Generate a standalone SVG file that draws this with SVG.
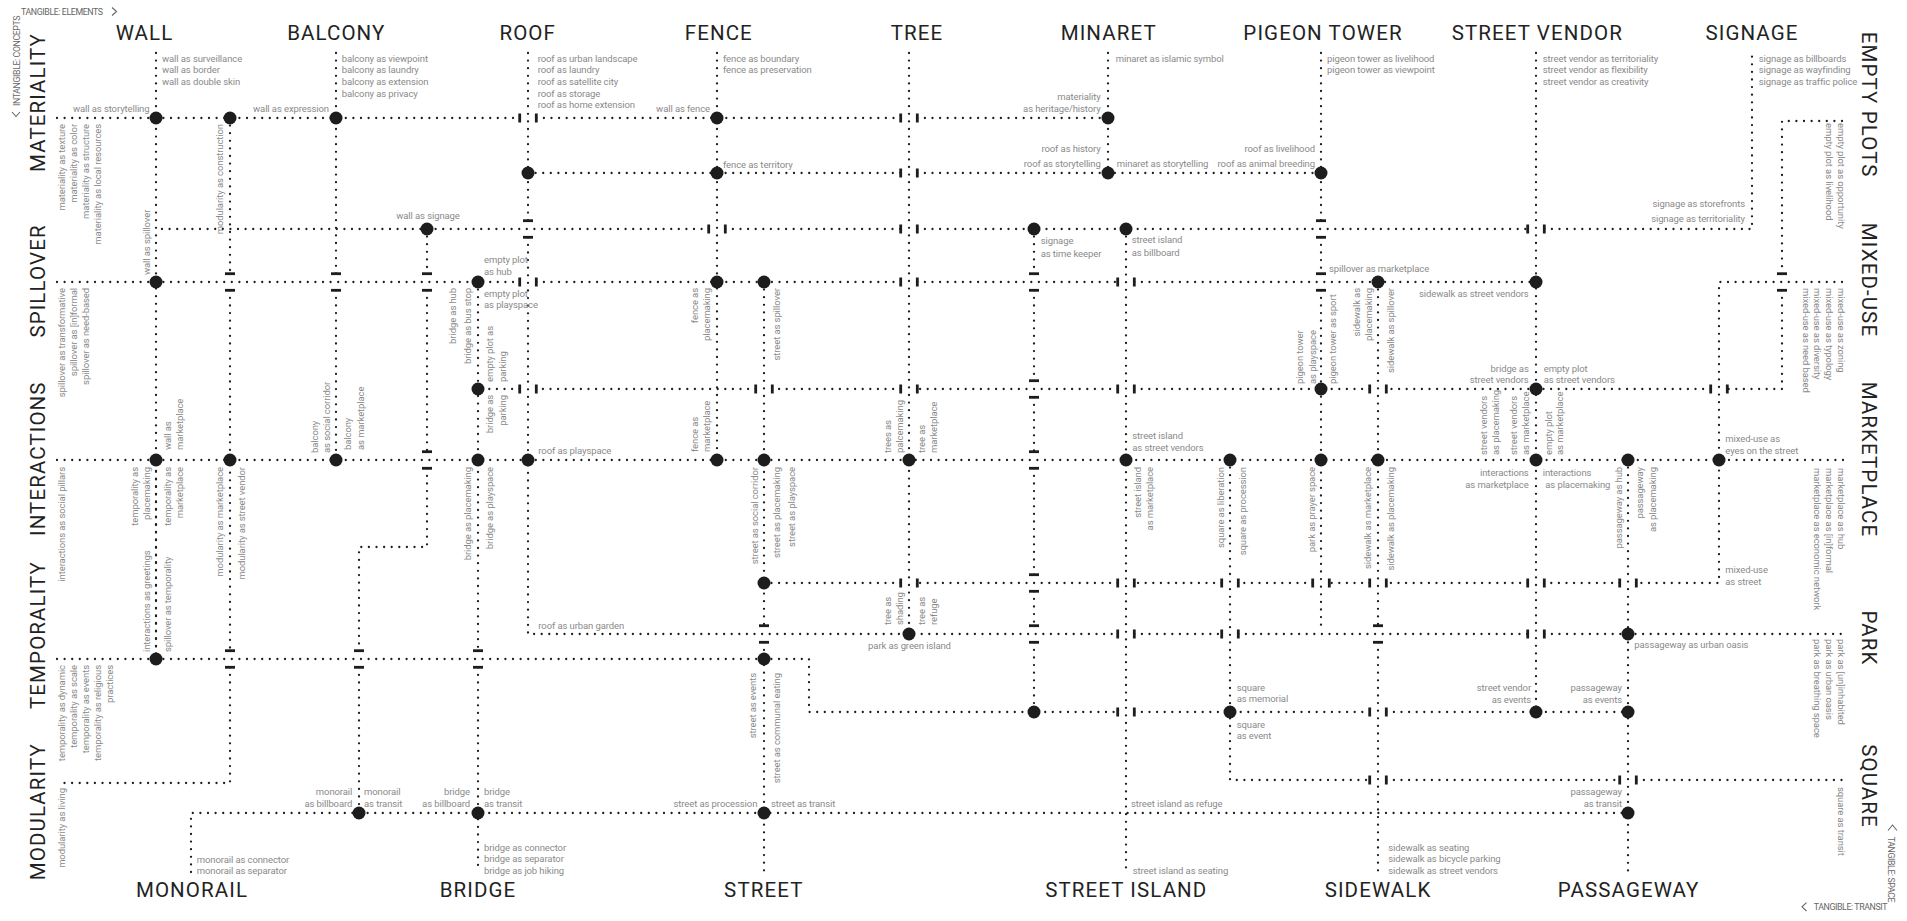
<svg xmlns="http://www.w3.org/2000/svg" xmlns:xlink="http://www.w3.org/1999/xlink" width="1907" height="921" viewBox="0 0 1907 921">
<style>
.d{fill:none;stroke:#1d1d1d;stroke-width:2.3;stroke-linecap:round;stroke-dasharray:0 7.6}
.l{font-family:Roboto,"Liberation Sans",sans-serif;font-size:9.5px;fill:#8a8a8a;letter-spacing:-0.1px}
.e{text-anchor:end}
.m{text-anchor:middle}
.t{font-family:Roboto,"Liberation Sans",sans-serif;font-size:20.5px;font-weight:400;fill:#222;text-anchor:middle;letter-spacing:1.1px}
.c{font-family:Roboto,"Liberation Sans",sans-serif;font-size:8.8px;fill:#666;letter-spacing:-0.4px}
.cv{fill:none;stroke:#666;stroke-width:1.1}
</style>
<defs>
<g id="vg"><rect x="-9.7" y="-4.5" width="2.8" height="9"/><rect x="6.9" y="-4.5" width="2.8" height="9"/></g>
<g id="hg"><rect x="-5" y="-9.7" width="10" height="2.8"/><rect x="-5" y="6.9" width="10" height="2.8"/></g>
<circle id="nd" r="6.5"/>
</defs>
<rect width="1907" height="921" fill="#fff"/>

<g id="connectors" class="d">
<path d="M57 118H519.7M536.3 118H900.7M917.3 118H1108"/>
<path d="M528 173H900.7M917.3 173H1321"/>
<path d="M162 229H708.7M725.3 229H900.7M917.3 229H1527.7M1544.3 229H1752V53"/>
<path d="M57 282H519.7M536.3 282H900.7M917.3 282H1117.7M1134.3 282H1536"/>
<path d="M1842 282H1719V583H1636.3M1619.7 583H1544.3M1527.7 583H1386.3M1369.7 583H1329.3M1312.7 583H1238.3M1221.7 583H1134.3M1117.7 583H917.3M900.7 583H764"/>
<path d="M1842 121H1782V273.7M1782 290.3V389H1727.3M1710.7 389H1386.3M1369.7 389H1134.3M1117.7 389H917.3M900.7 389H772.3M755.7 389H536.3M519.7 389H478"/>
<path d="M57 460H1843"/>
<path d="M528 53V220.7M528 237.3V634H1117.7M1134.3 634H1221.7M1238.3 634H1527.7M1544.3 634H1843"/>
<path d="M57 659H809V712H1117.7M1134.3 712H1369.7M1386.3 712H1628"/>
<path d="M1230 460V780H1369.7M1386.3 780H1619.7M1636.3 780H1843"/>
<path d="M230 118V273.7M230 290.3V650.7M230 667.3V783H57"/>
<path d="M191 872V813H1628"/>
<path d="M156 53V659"/>
<path d="M156 468V652" style="stroke-dashoffset:3.8"/>
<path d="M336 53V273.7M336 290.3V460"/>
<path d="M427 229V273.7M427 290.3V451.7M427 468.3V547H359V650.7M359 667.3V813"/>
<path d="M478 282V650.7M478 667.3V872"/>
<path d="M717 53V460"/>
<path d="M764 282V625.7M764 642.3V872"/>
<path d="M909 53V634"/>
<path d="M1034 229V273.7M1034 290.3V380.7M1034 397.3V451.7M1034 468.3V574.7M1034 591.3V625.7M1034 642.3V712"/>
<path d="M1108 53V173"/>
<path d="M1126 229V872"/>
<path d="M1321 53V220.7M1321 237.3V273.7M1321 290.3V628"/>
<path d="M1378 282V625.7M1378 642.3V872"/>
<path d="M1536 53V712"/>
<path d="M1628 460V872"/>
</g>

<g id="crossings" fill="#1d1d1d">
<use href="#vg" x="528" y="118"/><use href="#vg" x="909" y="118"/>
<use href="#vg" x="909" y="173"/>
<use href="#vg" x="717" y="229"/><use href="#vg" x="909" y="229"/><use href="#vg" x="1536" y="229"/>
<use href="#vg" x="528" y="282"/><use href="#vg" x="909" y="282"/><use href="#vg" x="1126" y="282"/>
<use href="#vg" x="528" y="389"/><use href="#vg" x="764" y="389"/><use href="#vg" x="909" y="389"/><use href="#vg" x="1126" y="389"/><use href="#vg" x="1378" y="389"/><use href="#vg" x="1719" y="389"/>
<use href="#vg" x="909" y="583"/><use href="#vg" x="1126" y="583"/><use href="#vg" x="1230" y="583"/><use href="#vg" x="1321" y="583"/><use href="#vg" x="1378" y="583"/><use href="#vg" x="1536" y="583"/><use href="#vg" x="1628" y="583"/>
<use href="#vg" x="1126" y="634"/><use href="#vg" x="1230" y="634"/><use href="#vg" x="1536" y="634"/>
<use href="#vg" x="1126" y="712"/><use href="#vg" x="1378" y="712"/>
<use href="#vg" x="1378" y="780"/><use href="#vg" x="1628" y="780"/>
<use href="#hg" x="528" y="229"/><use href="#hg" x="1321" y="229"/>
<use href="#hg" x="230" y="282"/><use href="#hg" x="336" y="282"/><use href="#hg" x="427" y="282"/><use href="#hg" x="1034" y="282"/><use href="#hg" x="1321" y="282"/><use href="#hg" x="1782" y="282"/>
<use href="#hg" x="1034" y="389"/>
<use href="#hg" x="427" y="460"/><use href="#hg" x="1034" y="460"/>
<use href="#hg" x="1034" y="583"/>
<use href="#hg" x="764" y="634"/><use href="#hg" x="1034" y="634"/><use href="#hg" x="1378" y="634"/>
<use href="#hg" x="230" y="659"/><use href="#hg" x="359" y="659"/><use href="#hg" x="478" y="659"/>
</g>

<g id="junctions" fill="#1d1d1d">
<use href="#nd" x="156" y="118"/><use href="#nd" x="230" y="118"/><use href="#nd" x="336" y="118"/><use href="#nd" x="717" y="118"/><use href="#nd" x="1108" y="118"/>
<use href="#nd" x="528" y="173"/><use href="#nd" x="717" y="173"/><use href="#nd" x="1108" y="173"/><use href="#nd" x="1321" y="173"/>
<use href="#nd" x="427" y="229"/><use href="#nd" x="1034" y="229"/><use href="#nd" x="1126" y="229"/>
<use href="#nd" x="156" y="282"/><use href="#nd" x="478" y="282"/><use href="#nd" x="717" y="282"/><use href="#nd" x="764" y="282"/><use href="#nd" x="1378" y="282"/><use href="#nd" x="1536" y="282"/>
<use href="#nd" x="478" y="389"/><use href="#nd" x="1321" y="389"/><use href="#nd" x="1536" y="389"/>
<use href="#nd" x="156" y="460"/><use href="#nd" x="230" y="460"/><use href="#nd" x="336" y="460"/><use href="#nd" x="478" y="460"/><use href="#nd" x="528" y="460"/><use href="#nd" x="717" y="460"/><use href="#nd" x="764" y="460"/><use href="#nd" x="909" y="460"/><use href="#nd" x="1126" y="460"/><use href="#nd" x="1230" y="460"/><use href="#nd" x="1321" y="460"/><use href="#nd" x="1378" y="460"/><use href="#nd" x="1536" y="460"/><use href="#nd" x="1628" y="460"/><use href="#nd" x="1719" y="460"/>
<use href="#nd" x="764" y="583"/>
<use href="#nd" x="909" y="634"/><use href="#nd" x="1628" y="634"/>
<use href="#nd" x="156" y="659"/><use href="#nd" x="764" y="659"/>
<use href="#nd" x="1034" y="712"/><use href="#nd" x="1230" y="712"/><use href="#nd" x="1536" y="712"/><use href="#nd" x="1628" y="712"/>
<use href="#nd" x="359" y="813"/><use href="#nd" x="478" y="813"/><use href="#nd" x="764" y="813"/><use href="#nd" x="1628" y="813"/>
</g>

<g id="axis-labels">
<text class="c" x="21" y="14.5">TANGIBLE: ELEMENTS</text>
<polyline class="cv" points="112,7.5 116.5,11.5 112,15.5"/>
<text class="c" transform="translate(20,106) rotate(-90)">INTANGIBLE: CONCEPTS</text>
<polyline class="cv" points="12,112 16,116.5 20,112"/>
<text class="c" x="1813.7" y="910">TANGIBLE: TRANSIT</text>
<polyline class="cv" points="1806.5,902.7 1802,906.8 1806.5,911"/>
<text class="c" transform="translate(1888,836.7) rotate(90)">TANGIBLE: SPACE</text>
<polyline class="cv" points="1888,830.5 1892.5,825 1897,830.5"/>
</g>

<g id="el-wall"><text class="t" x="144.5" y="40">WALL</text>
<text class="l" x="162" y="61.5">wall as surveillance</text><text class="l" x="162" y="73.2">wall as border</text><text class="l" x="162" y="84.9">wall as double skin</text></g>
<g id="el-balcony"><text class="t" x="336.3" y="40">BALCONY</text>
<text class="l" x="341.7" y="61.5">balcony as viewpoint</text><text class="l" x="341.7" y="73.2">balcony as laundry</text><text class="l" x="341.7" y="84.9">balcony as extension</text><text class="l" x="341.7" y="96.6">balcony as privacy</text></g>
<g id="el-roof"><text class="t" x="527.7" y="40">ROOF</text>
<text class="l" x="537.7" y="61.5">roof as urban landscape</text><text class="l" x="537.7" y="73.2">roof as laundry</text><text class="l" x="537.7" y="84.9">roof as satellite city</text><text class="l" x="537.7" y="96.6">roof as storage</text><text class="l" x="537.7" y="108.3">roof as home extension</text></g>
<g id="el-fence"><text class="t" x="718.8" y="40">FENCE</text>
<text class="l" x="723" y="61.5">fence as boundary</text><text class="l" x="723" y="73.2">fence as preservation</text></g>
<g id="el-tree"><text class="t" x="917" y="40">TREE</text></g>
<g id="el-minaret"><text class="t" x="1108.7" y="40">MINARET</text>
<text class="l" x="1115.7" y="61.5">minaret as islamic symbol</text></g>
<g id="el-pigeon-tower"><text class="t" x="1323" y="40">PIGEON TOWER</text>
<text class="l" x="1327" y="61.5">pigeon tower as livelihood</text><text class="l" x="1327" y="73.2">pigeon tower as viewpoint</text></g>
<g id="el-street-vendor"><text class="t" x="1537.3" y="40">STREET VENDOR</text>
<text class="l" x="1542.7" y="61.5">street vendor as territoriality</text><text class="l" x="1542.7" y="73.2">street vendor as flexibility</text><text class="l" x="1542.7" y="84.9">street vendor as creativity</text></g>
<g id="el-signage"><text class="t" x="1752" y="40">SIGNAGE</text>
<text class="l" x="1758.7" y="61.5">signage as billboards</text><text class="l" x="1758.7" y="73.2">signage as wayfinding</text><text class="l" x="1758.7" y="84.9">signage as traffic police</text></g>

<g id="el-monorail"><text class="t" x="192" y="897">MONORAIL</text>
<text class="l" x="196.7" y="862.5">monorail as connector</text><text class="l" x="196.7" y="874.2">monorail as separator</text></g>
<g id="el-bridge"><text class="t" x="478" y="897">BRIDGE</text>
<text class="l" x="484" y="850.5">bridge as connector</text><text class="l" x="484" y="862.2">bridge as separator</text><text class="l" x="484" y="874.2">bridge as job hiking</text></g>
<g id="el-street"><text class="t" x="763.8" y="897">STREET</text></g>
<g id="el-street-island"><text class="t" x="1126.3" y="897">STREET ISLAND</text>
<text class="l" x="1132.7" y="874.2">street island as seating</text></g>
<g id="el-sidewalk"><text class="t" x="1378" y="897">SIDEWALK</text>
<text class="l" x="1388.3" y="850.5">sidewalk as seating</text><text class="l" x="1388.3" y="862.2">sidewalk as bicycle parking</text><text class="l" x="1388.3" y="874.2">sidewalk as street vendors</text></g>
<g id="el-passageway"><text class="t" x="1628.7" y="897">PASSAGEWAY</text></g>

<g id="co-materiality"><text class="t" transform="translate(45,102.5) rotate(-90)">MATERIALITY</text>
<text class="l e" transform="translate(64.8,124) rotate(-90)">materiality as texture</text>
<text class="l e" transform="translate(76.8,124) rotate(-90)">materiality as color</text>
<text class="l e" transform="translate(88.8,124) rotate(-90)">materiality as structure</text>
<text class="l e" transform="translate(100.8,124) rotate(-90)">materiality as local resources</text></g>
<g id="co-spillover"><text class="t" transform="translate(45,281) rotate(-90)">SPILLOVER</text>
<text class="l e" transform="translate(64.8,288) rotate(-90)">spillover as transformative</text>
<text class="l e" transform="translate(76.8,288) rotate(-90)">spillover as [in]formal</text>
<text class="l e" transform="translate(88.8,288) rotate(-90)">spillover as need-based</text></g>
<g id="co-interactions"><text class="t" transform="translate(45,458.7) rotate(-90)">INTERACTIONS</text>
<text class="l e" transform="translate(64.8,467) rotate(-90)">interactions as social pillars</text></g>
<g id="co-temporality"><text class="t" transform="translate(45,635) rotate(-90)">TEMPORALITY</text>
<text class="l e" transform="translate(64.8,665) rotate(-90)">temporality as dynamic</text>
<text class="l e" transform="translate(76.8,665) rotate(-90)">temporality as scale</text>
<text class="l e" transform="translate(88.8,665) rotate(-90)">temporality as events</text>
<text class="l e" transform="translate(100.8,665) rotate(-90)">temporality as religious</text>
<text class="l e" transform="translate(112.8,665) rotate(-90)">practices</text></g>
<g id="co-modularity"><text class="t" transform="translate(45,811.7) rotate(-90)">MODULARITY</text>
<text class="l e" transform="translate(64.8,788) rotate(-90)">modularity as living</text></g>

<g id="sp-empty-plots"><text class="t" transform="translate(1862,104.7) rotate(90)">EMPTY PLOTS</text>
<text class="l" transform="translate(1837.5,123) rotate(90)">empty plot as opportunity</text>
<text class="l" transform="translate(1825.9,123) rotate(90)">empty plot as livelihood</text></g>
<g id="sp-mixed-use"><text class="t" transform="translate(1862,280) rotate(90)">MIXED-USE</text>
<text class="l" transform="translate(1837.5,288) rotate(90)">mixed-use as zoning</text>
<text class="l" transform="translate(1825.9,288) rotate(90)">mixed-use as typology</text>
<text class="l" transform="translate(1814.2,288) rotate(90)">mixed-use as diversity</text>
<text class="l" transform="translate(1802.5,288) rotate(90)">mixed-use as need based</text></g>
<g id="sp-marketplace"><text class="t" transform="translate(1862,459.5) rotate(90)">MARKETPLACE</text>
<text class="l" transform="translate(1837.5,468) rotate(90)">marketplace as hub</text>
<text class="l" transform="translate(1825.9,468) rotate(90)">marketplace as [in]formal</text>
<text class="l" transform="translate(1814.2,468) rotate(90)">marketplace as economic network</text></g>
<g id="sp-park"><text class="t" transform="translate(1862,638) rotate(90)">PARK</text>
<text class="l" transform="translate(1837.5,639) rotate(90)">park as [un]inhabited</text>
<text class="l" transform="translate(1825.9,639) rotate(90)">park as urban oasis</text>
<text class="l" transform="translate(1814.2,639) rotate(90)">park as breathing space</text></g>
<g id="sp-square"><text class="t" transform="translate(1862,786) rotate(90)">SQUARE</text>
<text class="l" transform="translate(1837.5,787) rotate(90)">square as transit</text></g>

<g id="labels">
<text class="l e" x="149.5" y="112">wall as storytelling</text>
<text class="l e" x="329" y="112">wall as expression</text>
<text class="l e" x="710" y="112">wall as fence</text>
<text class="l e" x="1100.7" y="99.5">materiality</text>
<text class="l e" x="1100.7" y="111.5">as heritage/history</text>
<text class="l" x="723" y="168.2">fence as territory</text>
<text class="l e" x="1100.7" y="152.2">roof as history</text>
<text class="l e" x="1100.7" y="166.5">roof as storytelling</text>
<text class="l" x="1116.7" y="166.5">minaret as storytelling</text>
<text class="l e" x="1315" y="152.2">roof as livelihood</text>
<text class="l e" x="1315" y="166.5">roof as animal breeding</text>
<text class="l m" x="428" y="219.2">wall as signage</text>
<text class="l e" x="1745" y="207.2">signage as storefronts</text>
<text class="l e" x="1745" y="222.2">signage as territoriality</text>
<text class="l" x="1040.7" y="244.2">signage</text>
<text class="l" x="1040.7" y="256.5">as time keeper</text>
<text class="l" x="1131.7" y="243.2">street island</text>
<text class="l" x="1131.7" y="255.5">as billboard</text>
<text class="l" x="484" y="263.2">empty plot</text>
<text class="l" x="484" y="274.9">as hub</text>
<text class="l" x="484" y="297.2">empty plot</text>
<text class="l" x="484" y="308.2">as playspace</text>
<text class="l" x="1329" y="271.5">spillover as marketplace</text>
<text class="l e" x="1528.7" y="296.5">sidewalk as street vendors</text>
<text class="l e" x="1528.7" y="371.5">bridge as</text>
<text class="l e" x="1528.7" y="383.2">street vendors</text>
<text class="l" x="1543.7" y="371.5">empty plot</text>
<text class="l" x="1543.7" y="383.2">as street vendors</text>
<text class="l" x="538.3" y="453.9">roof as playspace</text>
<text class="l" x="1132.3" y="438.9">street island</text>
<text class="l" x="1132.3" y="450.9">as street vendors</text>
<text class="l e" x="1528.7" y="475.5">interactions</text>
<text class="l e" x="1528.7" y="487.5">as marketplace</text>
<text class="l" x="1542.7" y="475.5">interactions</text>
<text class="l" x="1545.3" y="487.5">as placemaking</text>
<text class="l" x="1725.3" y="442.2">mixed-use as</text>
<text class="l" x="1725.3" y="453.9">eyes on the street</text>
<text class="l" x="1725.3" y="573.2">mixed-use</text>
<text class="l" x="1725.3" y="584.9">as street</text>
<text class="l" x="538.3" y="629.2">roof as urban garden</text>
<text class="l m" x="909.5" y="649.2">park as green island</text>
<text class="l" x="1634.3" y="647.9">passageway as urban oasis</text>
<text class="l" x="1236.7" y="690.9">square</text>
<text class="l" x="1236.7" y="702.2">as memorial</text>
<text class="l" x="1236.7" y="727.5">square</text>
<text class="l" x="1236.7" y="738.9">as event</text>
<text class="l e" x="1531" y="690.9">street vendor</text>
<text class="l e" x="1531" y="702.5">as events</text>
<text class="l e" x="1622" y="690.9">passageway</text>
<text class="l e" x="1622" y="702.5">as events</text>
<text class="l e" x="352.3" y="794.9">monorail</text>
<text class="l e" x="352.3" y="806.5">as billboard</text>
<text class="l" x="364" y="794.9">monorail</text>
<text class="l" x="364" y="806.5">as transit</text>
<text class="l e" x="470" y="794.9">bridge</text>
<text class="l e" x="470" y="806.5">as billboard</text>
<text class="l" x="484" y="794.9">bridge</text>
<text class="l" x="484" y="806.5">as transit</text>
<text class="l e" x="757.3" y="806.5">street as procession</text>
<text class="l" x="771" y="806.5">street as transit</text>
<text class="l" x="1131" y="807.2">street island as refuge</text>
<text class="l e" x="1622" y="794.9">passageway</text>
<text class="l e" x="1622" y="806.5">as transit</text>

<text class="l" transform="translate(149.5,275) rotate(-90)">wall as spillover</text>
<text class="l e" transform="translate(222.8,124) rotate(-90)">modularity as construction</text>
<text class="l e" transform="translate(455.8,288) rotate(-90)">bridge as hub</text>
<text class="l e" transform="translate(470.8,288) rotate(-90)">bridge as bus stop</text>
<text class="l" transform="translate(492.8,382) rotate(-90)">empty plot as</text>
<text class="l" transform="translate(505.8,382) rotate(-90)">parking</text>
<text class="l e" transform="translate(492.8,395) rotate(-90)">bridge as</text>
<text class="l e" transform="translate(505.8,395) rotate(-90)">parking</text>
<text class="l e" transform="translate(697.8,288) rotate(-90)">fence as</text>
<text class="l e" transform="translate(710.1,288) rotate(-90)">placemaking</text>
<text class="l e" transform="translate(779.5,288) rotate(-90)">street as spillover</text>
<text class="l" transform="translate(1302.8,384) rotate(-90)">pigeon tower</text>
<text class="l" transform="translate(1315.5,384) rotate(-90)">as playspace</text>
<text class="l" transform="translate(1335.8,384) rotate(-90)">pigeon tower as sport</text>
<text class="l e" transform="translate(1359.8,288) rotate(-90)">sidewalk as</text>
<text class="l e" transform="translate(1371.8,288) rotate(-90)">placemaking</text>
<text class="l e" transform="translate(1393.5,288) rotate(-90)">sidewalk as spillover</text>

<text class="l" transform="translate(171.1,450) rotate(-90)">wall as</text>
<text class="l" transform="translate(182.8,450) rotate(-90)">marketplace</text>
<text class="l e" transform="translate(137.8,467) rotate(-90)">temporality as</text>
<text class="l e" transform="translate(149.5,467) rotate(-90)">placemaking</text>
<text class="l e" transform="translate(171.1,467) rotate(-90)">temporality as</text>
<text class="l e" transform="translate(182.8,467) rotate(-90)">marketplace</text>
<text class="l e" transform="translate(222.8,467) rotate(-90)">modularity as marketplace</text>
<text class="l e" transform="translate(245.1,467) rotate(-90)">modularity as street vendor</text>
<text class="l" transform="translate(317.8,453) rotate(-90)">balcony</text>
<text class="l" transform="translate(330.1,453) rotate(-90)">as social corridor</text>
<text class="l" transform="translate(351.1,450) rotate(-90)">balcony</text>
<text class="l" transform="translate(363.5,450) rotate(-90)">as marketplace</text>
<text class="l e" transform="translate(471.1,467) rotate(-90)">bridge as placemaking</text>
<text class="l e" transform="translate(492.8,467) rotate(-90)">bridge as playspace</text>
<text class="l" transform="translate(697.8,452) rotate(-90)">fence as</text>
<text class="l" transform="translate(710.1,452) rotate(-90)">marketplace</text>
<text class="l e" transform="translate(757.8,467) rotate(-90)">street as social corridor</text>
<text class="l e" transform="translate(779.5,467) rotate(-90)">street as placemaking</text>
<text class="l e" transform="translate(794.5,467) rotate(-90)">street as playspace</text>
<text class="l" transform="translate(891.1,453) rotate(-90)">trees as</text>
<text class="l" transform="translate(902.8,453) rotate(-90)">palcemaking</text>
<text class="l" transform="translate(924.5,453) rotate(-90)">tree as</text>
<text class="l" transform="translate(936.8,453) rotate(-90)">marketplace</text>
<text class="l e" transform="translate(1141.1,467) rotate(-90)">street island</text>
<text class="l e" transform="translate(1152.8,467) rotate(-90)">as marketplace</text>
<text class="l e" transform="translate(1223.5,467) rotate(-90)">square as liberation</text>
<text class="l e" transform="translate(1245.5,467) rotate(-90)">square as procession</text>
<text class="l e" transform="translate(1314.5,467) rotate(-90)">park as prayer space</text>
<text class="l e" transform="translate(1371.1,467) rotate(-90)">sidewalk as marketplace</text>
<text class="l e" transform="translate(1393.5,467) rotate(-90)">sidewalk as placemaking</text>
<text class="l" transform="translate(1487.1,455) rotate(-90)">street vendors</text>
<text class="l" transform="translate(1499.1,455) rotate(-90)">as placemaking</text>
<text class="l" transform="translate(1517.1,455) rotate(-90)">street vendors</text>
<text class="l" transform="translate(1528.8,455) rotate(-90)">as marketplace</text>
<text class="l" transform="translate(1551.5,455) rotate(-90)">empty plot</text>
<text class="l" transform="translate(1563.1,455) rotate(-90)">as marketplace</text>
<text class="l e" transform="translate(1621.5,467) rotate(-90)">passageway as hub</text>
<text class="l e" transform="translate(1643.1,467) rotate(-90)">passageway</text>
<text class="l e" transform="translate(1655.5,467) rotate(-90)">as placemaking</text>

<text class="l" transform="translate(891.1,625) rotate(-90)">tree as</text>
<text class="l" transform="translate(902.8,625) rotate(-90)">shading</text>
<text class="l" transform="translate(924.5,625) rotate(-90)">tree as</text>
<text class="l" transform="translate(936.8,625) rotate(-90)">refuge</text>
<text class="l" transform="translate(149.5,652) rotate(-90)">interactions as greetings</text>
<text class="l" transform="translate(171.1,652) rotate(-90)">spillover as temporality</text>
<text class="l e" transform="translate(756.1,673) rotate(-90)">street as events</text>
<text class="l e" transform="translate(779.5,673) rotate(-90)">street as communal eating</text>
</g>
</svg>
